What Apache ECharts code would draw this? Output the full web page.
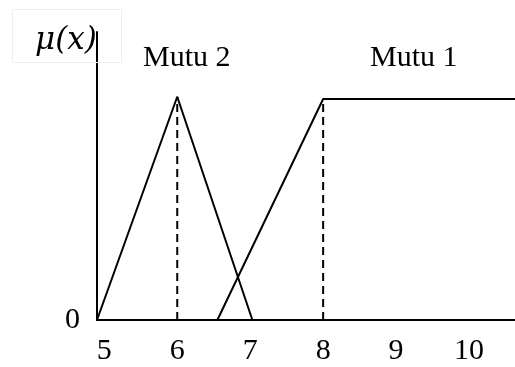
<!DOCTYPE html>
<html>
<head>
<meta charset="utf-8">
<script src="https://cdn.jsdelivr.net/npm/echarts@6/dist/echarts.min.js"></script>
<style>
html, body { margin: 0; padding: 0; background: #fff; }
#chart { width: 515px; height: 367px; }
</style>
</head>
<body>
<div id="chart"></div>
<script>
// membership functions
const seriesNames = ['Mutu 2', 'Mutu 1']
const mutu2X = [4.9, 6, 7.03]
const mutu2Y = [0, 1, 0]
const mutu1X = [6.55, 8, 10.63]
const mutu1Y = [0, 0.99, 0.99]
const peakX = [6, 8]
const peakY = [1, 0.99]
const xTicks = [5, 6, 7, 8, 9, 10]
const yTicks = [0]
const yTitle = 'μ(x)'

const serif = 'Liberation Serif'

function pairs(xs, ys) {
  return xs.map((x, i) => [x, ys[i]])
}

let series = [
  {
    name: seriesNames[0],
    type: 'line',
    data: pairs(mutu2X, mutu2Y),
    symbol: 'none',
    lineStyle: { color: '#000', width: 2 }
  },
  {
    name: seriesNames[1],
    type: 'line',
    data: pairs(mutu1X, mutu1Y),
    symbol: 'none',
    lineStyle: { color: '#000', width: 2 }
  }
]
peakX.forEach((x, i) => {
  series.push({
    type: 'line',
    data: [[x, 0], [x, peakY[i]]],
    symbol: 'none',
    lineStyle: { color: '#000', width: 2, type: [8, 5] }
  })
})

let option = {
  animation: false,
  title: {
    text: yTitle,
    left: 12,
    top: 9,
    padding: [16, 25, 7, 23],
    borderColor: '#eeeeee',
    borderWidth: 1,
    textStyle: { fontFamily: 'DejaVu Serif', fontStyle: 'italic', fontWeight: 'normal', fontSize: 31, color: '#000' }
  },
  graphic: [
    { type: 'text', left: 143, top: 43, style: { text: seriesNames[0], font: '30px "Liberation Serif"', fill: '#000' } },
    { type: 'text', left: 370, top: 43, style: { text: seriesNames[1], font: '30px "Liberation Serif"', fill: '#000' } }
  ],
  grid: { left: 97, right: 0, top: 32, bottom: 47 },
  xAxis: {
    type: 'value',
    min: 4.9,
    max: 10.63,
    splitLine: { show: false },
    axisTick: { show: false },
    axisLine: { show: true, lineStyle: { color: '#000', width: 2 } },
    axisLabel: { customValues: xTicks, margin: 16, fontFamily: serif, fontSize: 30, color: '#000' }
  },
  yAxis: {
    type: 'value',
    min: 0,
    max: 1.29,
    splitLine: { show: false },
    axisTick: { show: false },
    axisLine: { show: true, lineStyle: { color: '#000', width: 2 } },
    axisLabel: { customValues: yTicks, margin: 17, fontFamily: serif, fontSize: 30, color: '#000' }
  },
  series: series
}

let myChart = echarts.init(document.getElementById('chart'))
myChart.setOption(option)
</script>
</body>
</html>
